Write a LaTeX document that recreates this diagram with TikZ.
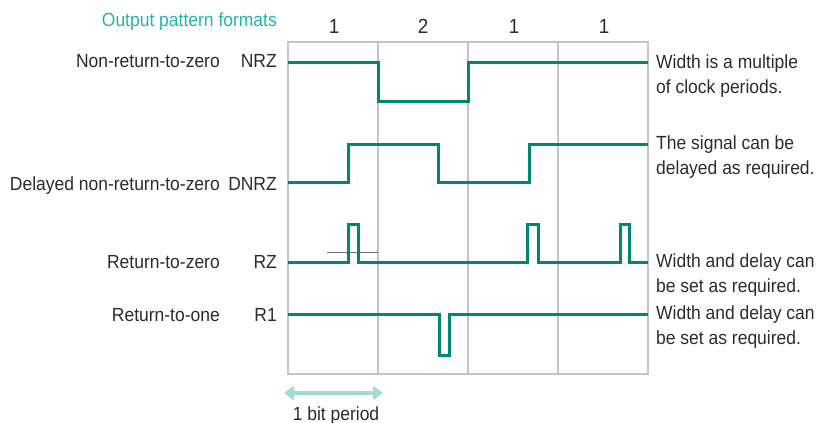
\documentclass[tikz,border=0pt]{standalone}
\usepackage{fontspec}
\setmainfont{Liberation Sans}[FakeStretch=0.92]
\usetikzlibrary{arrows.meta,positioning}
\definecolor{wave}{HTML}{00876E}
\definecolor{heading}{HTML}{22B3A9}
\definecolor{span}{HTML}{A3DBD2}
\definecolor{rule}{HTML}{C4C4C4}
\definecolor{ink}{HTML}{2B2B2B}

\tikzset{
  signal/.style={line width=3pt, draw=wave, line join=miter},
  gridline/.style={line width=1.5pt, draw=rule},
  label/.style={font=\fontsize{19}{25}\selectfont, text=ink, inner sep=0pt},
  note/.style={label, align=left, anchor=north west},
  bitno/.style={font=\fontsize{20.5}{24}\selectfont, text=ink, inner sep=0pt, anchor=base}
}

\begin{document}
\begin{tikzpicture}[x=1pt, y=-1pt]
  \useasboundingbox (0,0) rectangle (817,423);

  % grid of bit periods
  \draw[gridline] (288,42) rectangle (648,374);
  \foreach \x in {378,468,558}
    \draw[gridline] (\x,42) -- (\x,374);

  % headings
  \node[label, text=heading, anchor=base east] (title) at (277,27) {Output pattern formats};
  \foreach \x/\n [count=\i] in {334/1,423/2,514/1,604/1}
    \node[bitno] (bit\i) at (\x,33) {\n};

  % format names
  \node[label, anchor=base east] (nrzname) at (220,67) {Non-return-to-zero};
  \node[label, anchor=base east] (nrz) at (277,67) {NRZ};
  \node[label, anchor=base east] (dnrzname) at (220,190) {Delayed non-return-to-zero};
  \node[label, anchor=base east] (dnrz) at (277,190) {DNRZ};
  \node[label, anchor=base east] (rzname) at (220,268) {Return-to-zero};
  \node[label, anchor=base east] (rz) at (277,268) {RZ};
  \node[label, anchor=base east] (roname) at (220,321) {Return-to-one};
  \node[label, anchor=base east] (ro) at (277,321) {R1};

  % waveforms
  \draw[signal] (288,62) -- (378,62) -- (378,101) -- (468,101) -- (468,62) -- (648,62);
  \draw[signal] (288,182) -- (348,182) -- (348,144) -- (438,144) -- (438,182)
    -- (529,182) -- (529,144) -- (648,144);
  \draw[draw=ink!70, line width=1pt] (327,252) -- (378,252);
  \draw[signal] (288,262) -- (348,262) -- (348,224) -- (358,224) -- (358,262)
    -- (527,262) -- (527,224) -- (538,224) -- (538,262)
    -- (620,262) -- (620,224) -- (629,224) -- (629,262) -- (648,262);
  \draw[signal] (288,314) -- (439,314) -- (439,355) -- (449,355) -- (449,314) -- (648,314);

  % notes
  \node[note] (nrznote) at (656,55) {Width is a multiple\\of clock periods.};
  \node[note] (dnrznote) at (656,136) {The signal can be\\delayed as required.};
  \node[note] (rznote) at (656,254) {Width and delay can\\be set as required.};
  \node[note] (ronote) at (656,306) {Width and delay can\\be set as required.};

  % one bit period
  \coordinate (bitl) at (284,393);
  \coordinate (bitr) at (383,393);
  \draw[draw=span, line width=4pt, {Triangle[length=10pt,width=14pt]}-{Triangle[length=10pt,width=14pt]}] (bitl) -- (bitr);
  \node[label, anchor=base] (bitlabel) at (336,420) {1 bit period};
\end{tikzpicture}
\end{document}
